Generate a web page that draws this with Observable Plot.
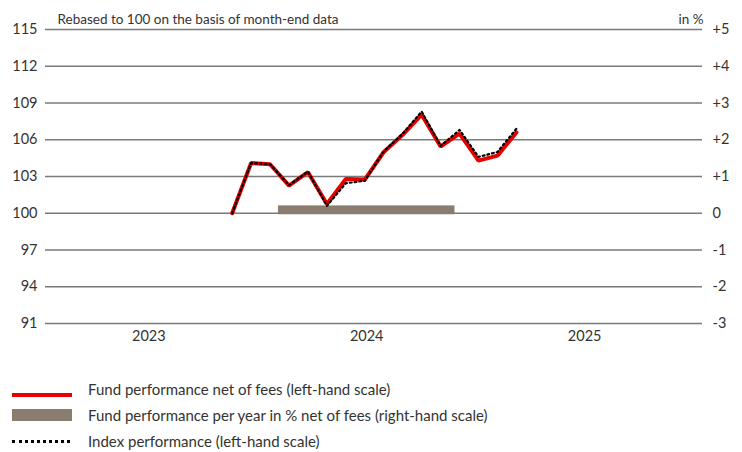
<!DOCTYPE html>
<html>
<head>
<meta charset="utf-8">
<script src="https://cdn.jsdelivr.net/npm/d3@7"></script>
<script src="https://cdn.jsdelivr.net/npm/@observablehq/plot@0.6"></script>
<style>
  body { margin: 0; background: #fff; font-family: Lato, "Noto Sans", sans-serif; color: #222; }
  #wrap { position: relative; width: 742px; height: 452px; }
  #legend { position: absolute; left: 0; top: 379px; font-size: 15px; color: #333; }
  .row { position: relative; height: 26px; }
  .sw { position: absolute; left: 12px; width: 60px; }
  .lbl { position: absolute; left: 88px; top: 1px; white-space: nowrap; }
</style>
</head>
<body>
<div id="wrap">
  <div id="chart"></div>
  <div id="legend"></div>
</div>
<script>
// Month-end observations (month index 0 = Jun 2023)
const months = ["2023-06","2023-07","2023-08","2023-09","2023-10","2023-11","2023-12",
                "2024-01","2024-02","2024-03","2024-04","2024-05","2024-06","2024-07","2024-08","2024-09"];
const fundValues  = [100, 104.1, 104.0, 102.25, 103.35, 100.75, 102.8, 102.75, 105.0, 106.4, 108.05, 105.45, 106.5, 104.3, 104.7, 106.6];
const indexValues = [100, 104.1, 104.0, 102.3, 103.4, 100.6, 102.45, 102.65, 105.05, 106.5, 108.3, 105.5, 106.8, 104.6, 105.0, 106.9];

// Yearly performance (right-hand scale, %)
const years = ["2023", "2024", "2025"];
const yearCenters = [-4.4, 7.1, 18.6];     // year label positions in month-index units
const yearPerf = [null, 0.2, null];

// Axis ticks
const leftTicks = [91, 94, 97, 100, 103, 106, 109, 112, 115];
const rightTicks = [-3, -2, -1, 0, 1, 2, 3, 4, 5];
const rightLabels = ["-3", "-2", "-1", "0", "+1", "+2", "+3", "+4", "+5"];

const toLeft = r => 100 + 3 * r;   // right-hand % scale mapped onto left scale
const yearStep = yearCenters[1] - yearCenters[0];
const barHalf = yearStep * 0.405;

const fund = months.map((m, i) => ({i, v: fundValues[i]}));
const index = months.map((m, i) => ({i, v: indexValues[i]}));
const bars = years.map((y, k) => ({x1: yearCenters[k] - barHalf, x2: yearCenters[k] + barHalf, v: yearPerf[k]}))
                  .filter(d => d.v != null);

const font = "Lato, Noto Sans, sans-serif";
const chart = Plot.plot({
  width: 742,
  height: 362,
  marginLeft: 45,
  marginRight: 40,
  marginTop: 29,
  marginBottom: 39,
  style: {fontFamily: font, fontSize: "14px", color: "#333", background: "#fff"},
  x: {type: "linear", domain: [-9.85, 24.82]},
  y: {domain: [91, 115]},
  marks: [
    Plot.ruleY(leftTicks, {stroke: "#7a7a7a", strokeWidth: 1.6}),
    Plot.rect(bars, {x1: "x1", x2: "x2", y1: 100, y2: d => toLeft(d.v), fill: "#8a7c6e", insetBottom: -1.5}),
    Plot.line(fund, {x: "i", y: "v", stroke: "#e60000", strokeWidth: 4, strokeLinejoin: "miter"}),
    Plot.line(index, {x: "i", y: "v", stroke: "#000", strokeWidth: 2.2, strokeDasharray: "1.8,3"}),
    Plot.axisY({anchor: "left", ticks: leftTicks, tickSize: 0, tickPadding: 8, label: null, fontSize: 14.5}),
    Plot.axisY({anchor: "right", ticks: rightTicks.map(toLeft), tickSize: 0, tickPadding: 10, label: null,
                tickFormat: v => rightLabels[rightTicks.indexOf((v - 100) / 3)], fontSize: 14.5}),
    Plot.axisX({ticks: yearCenters, tickSize: 0, tickPadding: 7, label: null,
                tickFormat: v => years[yearCenters.indexOf(v)], fontSize: 14.5}),
    Plot.text(["Rebased to 100 on the basis of month-end data"], {frameAnchor: "top-left", textAnchor: "start", dx: 12, dy: -15, fontSize: 13.5, fill: "#333"}),
    Plot.text(["in %"], {frameAnchor: "top-right", textAnchor: "end", dx: 1, dy: -15, fontSize: 13.5, fill: "#333"})
  ]
});
document.getElementById("chart").appendChild(chart);

// Legend
const legendItems = [
  {label: "Fund performance net of fees (left-hand scale)", kind: "line"},
  {label: "Fund performance per year in % net of fees (right-hand scale)", kind: "bar"},
  {label: "Index performance (left-hand scale)", kind: "dot"}
];
const lg = document.getElementById("legend");
legendItems.forEach(it => {
  const row = document.createElement("div");
  row.className = "row";
  const sw = document.createElement("div");
  sw.className = "sw";
  if (it.kind === "line") { sw.style.top = "14px"; sw.style.height = "4px"; sw.style.background = "#e60000"; }
  else if (it.kind === "bar") { sw.style.top = "4px"; sw.style.height = "12px"; sw.style.background = "#8a7c6e"; }
  else { sw.style.top = "9px"; sw.style.height = "0"; sw.style.width = "58px"; sw.style.borderTop = "3px dotted #000"; }
  const lb = document.createElement("div");
  lb.className = "lbl";
  lb.textContent = it.label;
  row.appendChild(sw); row.appendChild(lb);
  lg.appendChild(row);
});
</script>
</body>
</html>
